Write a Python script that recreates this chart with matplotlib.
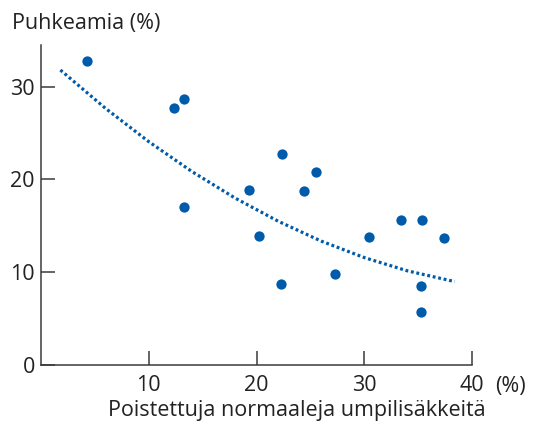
import matplotlib.pyplot as plt

# 読み取った値
x_points = [4.3, 12.3, 13.3, 13.3, 19.3, 20.2, 22.4, 22.3, 24.4, 25.5, 27.3,
            30.4, 33.4, 35.4, 35.3, 35.3, 37.4]
y_points = [32.8, 27.7, 28.7, 17.0, 18.8, 13.9, 22.7, 8.7, 18.7, 20.8, 9.75,
            13.8, 15.6, 15.6, 8.5, 5.7, 13.7]

# 傾向曲線（図から読んだ点）
x_curve = [1.8, 6, 10, 14, 18, 22, 26, 30, 34, 38.4]
y_curve = [31.8, 27.65, 24.07, 20.85, 17.99, 15.49, 13.34, 11.56, 10.13, 8.97]

xticks = [10, 20, 30, 40]
yticks = [0, 10, 20, 30]

plt.rcParams['font.family'] = ['Open Sans', 'DejaVu Sans']
blue = '#005BAA'
dark = '#222222'
fs = 15.5

fig = plt.figure(figsize=(5.43, 4.21), dpi=100)
ax = fig.add_axes([41 / 543, 1 - 364.7 / 421, (472 - 41) / 543, (364.7 - 45) / 421])

ax.scatter(x_points, y_points, s=55, color=blue, zorder=3, linewidths=0)
ax.plot(x_curve, y_curve, color=blue, lw=2.3, linestyle=(0, (0.9, 0.85)))

ax.set_xlim(0, 40)
ax.set_ylim(0, 34.5)
ax.set_xticks(xticks)
ax.set_yticks(yticks)
for s in ['top', 'right']:
    ax.spines[s].set_visible(False)
for s in ['left', 'bottom']:
    ax.spines[s].set_color('#3a3a3a')
    ax.spines[s].set_linewidth(1.1)
ax.tick_params(axis='both', direction='in', length=10.2, width=1.1, color='#3a3a3a',
               labelsize=fs, labelcolor=dark)
ax.tick_params(axis='x', pad=7.5)
ax.tick_params(axis='y', pad=4.5)

fig.text(12 / 543, 1 - 29.5 / 421, 'Puhkeamia (%)', fontsize=fs, color=dark,
         ha='left', va='baseline')
fig.text(297 / 543, 1 - 416 / 421, 'Poistettuja normaaleja umpilisäkkeitä',
         fontsize=fs, color=dark, ha='center', va='baseline')
fig.text(495 / 543, 1 - 392 / 421, '(%)', fontsize=fs, color=dark,
         ha='left', va='baseline')

fig.savefig('out.png', dpi=100)
